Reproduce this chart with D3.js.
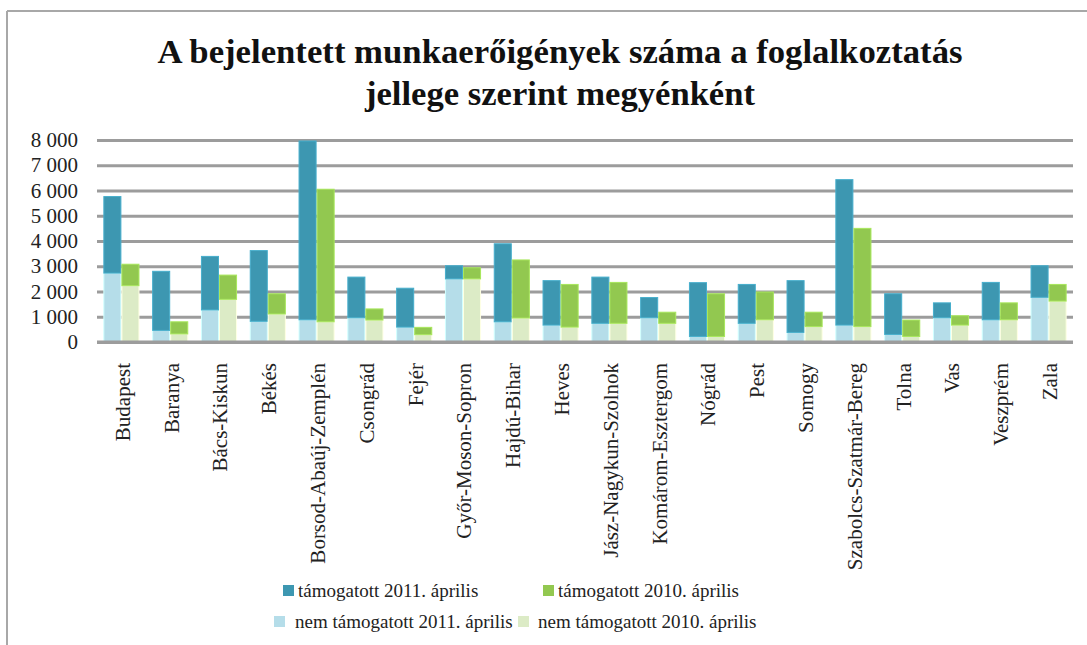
<!DOCTYPE html>
<html>
<head>
<meta charset="utf-8">
<script src="https://cdn.jsdelivr.net/npm/d3@7"></script>
<style>
  body { margin: 0; background: #fff; }
  svg { display: block; font-family: "Liberation Serif", "Times New Roman", serif; }
</style>
</head>
<body>
<svg id="chart" width="1087" height="645"></svg>
<script>
// counties and values
const counties = ["Budapest", "Baranya", "Bács-Kiskun", "Békés", "Borsod-Abaúj-Zemplén",
  "Csongrád", "Fejér", "Győr-Moson-Sopron", "Hajdú-Bihar", "Heves",
  "Jász-Nagykun-Szolnok", "Komárom-Esztergom", "Nógrád", "Pest", "Somogy",
  "Szabolcs-Szatmár-Bereg", "Tolna", "Vas", "Veszprém", "Zala"];

const nemTam2011 = [2730, 460, 1270, 820, 880, 960, 590, 2500, 800, 670, 740, 960, 220, 740, 380, 670, 300, 960, 880, 1770];
const tam2011 = [3030, 2340, 2120, 2800, 7080, 1610, 1540, 520, 3090, 1760, 1830, 800, 2130, 1540, 2050, 5760, 1610, 590, 1480, 1250];
const nemTam2010 = [2230, 320, 1690, 1110, 800, 870, 290, 2500, 950, 590, 740, 740, 220, 880, 610, 610, 220, 670, 880, 1620];
const tam2010 = [850, 480, 960, 800, 5250, 440, 290, 440, 2300, 1690, 1620, 440, 1690, 1100, 570, 3890, 650, 370, 670, 660];

const years = ["2011", "2010"];
const yTicks = [0, 1000, 2000, 3000, 4000, 5000, 6000, 7000, 8000];

const colors = {
  tam2011: "#3d97b1", nem2011: "#b5dde9",
  tam2010: "#92c850", nem2010: "#dcebc6"
};

const svg = d3.select("#chart");
const margin = { left: 97, right: 14, top: 140, bottom: 303 };
const W = 1087, H = 645;

// frame
svg.append("line").attr("x1", 7).attr("x2", W).attr("y1", 11).attr("y2", 11)
  .attr("stroke", "#a8a8a8").attr("stroke-width", 2);
svg.append("line").attr("x1", 7).attr("x2", 7).attr("y1", 11).attr("y2", H)
  .attr("stroke", "#a8a8a8").attr("stroke-width", 2);

// title
const title = svg.append("text").attr("text-anchor", "middle")
  .attr("font-weight", "bold").attr("font-size", 34).attr("fill", "#111");
title.append("tspan").attr("x", 560).attr("y", 63)
  .attr("textLength", 805).attr("lengthAdjust", "spacingAndGlyphs")
  .text("A bejelentett munkaerőigények száma a foglalkoztatás");
title.append("tspan").attr("x", 560).attr("y", 105)
  .attr("textLength", 390).attr("lengthAdjust", "spacingAndGlyphs")
  .text("jellege szerint megyénként");

const x0 = d3.scaleBand().domain(counties)
  .range([margin.left, W - margin.right]).paddingInner(0.26).paddingOuter(0.13);
const x1 = d3.scaleBand().domain(years).range([0, x0.bandwidth()]);
const y = d3.scaleLinear().domain([0, 8000]).range([342, 140]);

const fmt = d3.formatLocale({ decimal: ",", thousands: " ", grouping: [3], currency: ["", ""] }).format(",d");

// gridlines + y labels
const yAxis = d3.axisLeft(y).tickValues(yTicks).tickFormat(fmt)
  .tickSizeInner(-(W - margin.right - margin.left)).tickSizeOuter(0).tickPadding(19);
const gy = svg.append("g").attr("transform", `translate(${margin.left},0)`).call(yAxis);
gy.select(".domain").remove();
gy.selectAll(".tick line").attr("stroke", "#9c9c9c").attr("stroke-width", 3);
gy.selectAll(".tick text").attr("font-size", 21).attr("fill", "#222")
  .attr("font-family", "Liberation Serif");

// bars: per county, two stacks (2011 and 2010), nem támogatott at the bottom
const rows = counties.map((c, i) => ({
  county: c,
  stacks: [
    { year: "2011", parts: [
      { v0: 0, v1: nemTam2011[i], fill: colors.nem2011 },
      { v0: nemTam2011[i], v1: nemTam2011[i] + tam2011[i], fill: colors.tam2011 }] },
    { year: "2010", parts: [
      { v0: 0, v1: nemTam2010[i], fill: colors.nem2010 },
      { v0: nemTam2010[i], v1: nemTam2010[i] + tam2010[i], fill: colors.tam2010 }] }
  ]
}));

const groups = svg.append("g").selectAll("g").data(rows).join("g")
  .attr("transform", d => `translate(${x0(d.county)},0)`);
const stackG = groups.selectAll("g").data(d => d.stacks).join("g")
  .attr("transform", d => `translate(${x1(d.year)},0)`);
stackG.selectAll("rect").data(d => d.parts).join("rect")
  .attr("x", 0.5)
  .attr("width", x1.bandwidth() - 1)
  .attr("y", d => y(d.v1))
  .attr("height", d => y(d.v0) - y(d.v1))
  .attr("fill", d => d.fill)
  .attr("stroke", d => d3.color(d.fill).brighter(0.4))
  .attr("stroke-width", 1);

// redraw the zero line over the bars' feet
svg.append("line").attr("x1", margin.left).attr("x2", W - margin.right)
  .attr("y1", y(0)).attr("y2", y(0)).attr("stroke", "#9c9c9c").attr("stroke-width", 3);

// x labels, rotated
svg.append("g").selectAll("text").data(counties).join("text")
  .attr("transform", d => `translate(${x0(d) + x0.bandwidth() / 2 + 1},363) rotate(-90)`)
  .attr("text-anchor", "end").attr("dy", "0.35em")
  .attr("font-size", 21).attr("fill", "#222")
  .text(d => d);

// legend
const legendItems = [
  { label: "támogatott 2011. április", fill: colors.tam2011, sx: 283, tx: 298, y: 597 },
  { label: "támogatott 2010. április", fill: colors.tam2010, sx: 543, tx: 558, y: 597 },
  { label: "nem támogatott 2011. április", fill: colors.nem2011, sx: 274, tx: 295, y: 628 },
  { label: "nem támogatott 2010. április", fill: colors.nem2010, sx: 518, tx: 538, y: 628 }
];
const lg = svg.append("g").selectAll("g").data(legendItems).join("g");
lg.append("rect").attr("x", d => d.sx).attr("y", d => d.y - 12)
  .attr("width", 11).attr("height", 11).attr("fill", d => d.fill);
lg.append("text").attr("x", d => d.tx).attr("y", d => d.y)
  .attr("font-size", 19).attr("fill", "#222").text(d => d.label);
</script>
</body>
</html>
